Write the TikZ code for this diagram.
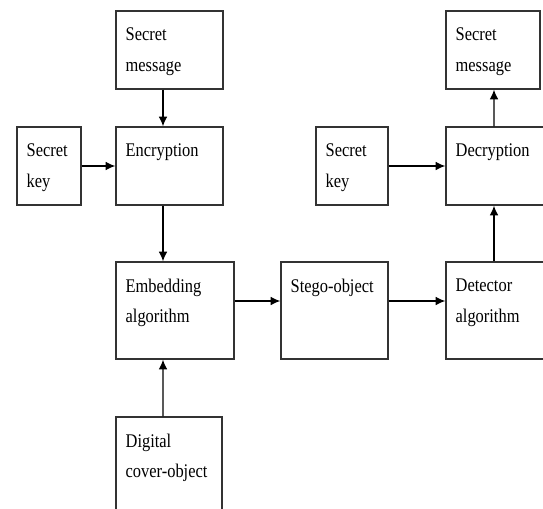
\documentclass[tikz,border=0pt]{standalone}
\usepackage{fontspec}
\setmainfont{Liberation Serif}[FakeStretch=0.85]
\usetikzlibrary{arrows.meta}

\tikzset{
  blk/.style={draw=black!80,line width=0.8pt,inner sep=0pt,minimum width=#1},
  txt/.style={anchor=north west,align=left,inner sep=0pt,
    font=\fontsize{11}{17.6}\selectfont},
  arr/.style={line width=0.75pt,-{Latex[length=5.5pt,width=5pt]}}
}

\begin{document}
\begin{tikzpicture}
\useasboundingbox (0,0) rectangle (10.86,-10.16);
\clip (0,0) rectangle (10.86,-10.16);

% boxes
\node[blk=2.14cm,minimum height=1.56cm] (msgA) at (3.39,-1.0) {};
\node[blk=2.14cm,minimum height=1.56cm] (enc) at (3.39,-3.32) {};
\node[blk=1.28cm,minimum height=1.56cm] (keyA) at (0.98,-3.32) {};
\node[blk=2.36cm,minimum height=1.94cm] (emb) at (3.5,-6.21) {};
\node[blk=2.12cm,minimum height=2cm] (cover) at (3.38,-9.34) {};
\node[blk=2.14cm,minimum height=1.94cm] (stego) at (6.69,-6.21) {};
\node[blk=2.14cm,minimum height=1.94cm] (det) at (9.99,-6.21) {};
\node[blk=2.14cm,minimum height=1.56cm] (dec) at (9.99,-3.32) {};
\node[blk=1.88cm,minimum height=1.56cm] (msgB) at (9.86,-1.0) {};
\node[blk=1.44cm,minimum height=1.56cm] (keyB) at (7.04,-3.32) {};

% texts
\node[txt] (msgA-t) at ([shift={(0.2,-0.34)}]msgA.north west) {Secret\\message};
\node[txt] (enc-t) at ([shift={(0.2,-0.34)}]enc.north west) {Encryption};
\node[txt] (keyA-t) at ([shift={(0.2,-0.34)}]keyA.north west) {Secret\\key};
\node[txt] (emb-t) at ([shift={(0.2,-0.34)}]emb.north west) {Embedding\\algorithm};
\node[txt] (cover-t) at ([shift={(0.2,-0.34)}]cover.north west) {Digital\\cover-object};
\node[txt] (stego-t) at ([shift={(0.2,-0.34)}]stego.north west) {Stego-object};
\node[txt] (det-t) at ([shift={(0.2,-0.34)}]det.north west) {Detector\\algorithm};
\node[txt] (dec-t) at ([shift={(0.2,-0.34)}]dec.north west) {Decryption};
\node[txt] (msgB-t) at ([shift={(0.2,-0.34)}]msgB.north west) {Secret\\message};
\node[txt] (keyB-t) at ([shift={(0.2,-0.34)}]keyB.north west) {Secret\\key};

% connectors
\draw[arr] ([xshift=-.13cm]msgA.south) -- ([xshift=-.13cm]enc.north);
\draw[arr] (keyA) -- (enc);
\draw[arr] ([xshift=-.13cm]enc.south) -- ([xshift=-.24cm]emb.north);
\draw[arr] ([xshift=-.12cm]cover.north) -- ([xshift=-.24cm]emb.south);
\draw[arr] ([yshift=.19cm]emb.east) -- ([yshift=.19cm]stego.west);
\draw[arr] ([yshift=.19cm]stego.east) -- ([yshift=.19cm]det.west);
\draw[arr] ([xshift=-.11cm]det.north) -- ([xshift=-.11cm]dec.south);
\draw[arr] ([xshift=-.11cm]dec.north) -- ([xshift=.02cm]msgB.south);
\draw[arr] (keyB) -- (dec);
\end{tikzpicture}
\end{document}
